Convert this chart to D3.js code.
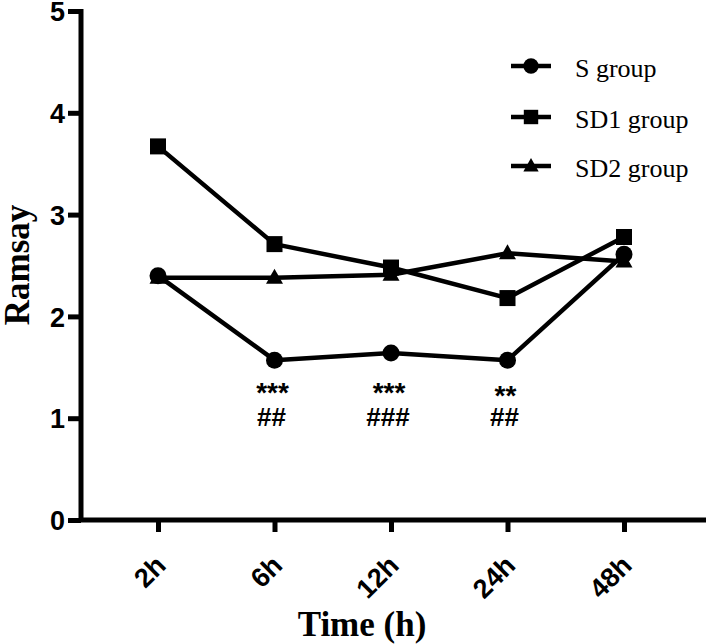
<!DOCTYPE html>
<html>
<head>
<meta charset="utf-8">
<script src="https://cdn.jsdelivr.net/npm/d3@7"></script>
<style>
  html, body { margin: 0; padding: 0; background: #fff; }
  svg { display: block; }
</style>
</head>
<body>
<svg id="chart" width="707" height="644"></svg>
<script>
// ---- data ----
const categories = ["2h", "6h", "12h", "24h", "48h"];
const seriesNames = ["S group", "SD1 group", "SD2 group"];
const seriesSymbols = ["circle", "square", "triangle"];
const sGroup   = [2.40, 1.57, 1.64, 1.57, 2.61];
const sd1Group = [3.67, 2.71, 2.48, 2.18, 2.78];
const sd2Group = [2.38, 2.38, 2.41, 2.62, 2.54];
const yTicks = [0, 1, 2, 3, 4, 5];
const starLabels = ["", "***", "***", "**", ""];
const hashLabels = ["", "##", "###", "##", ""];
const xTitle = "Time (h)";
const yTitle = "Ramsay";

// ---- layout ----
const svg = d3.select("#chart");
const axisX = 81, axisY = 520, axisRight = 706;
const x = d3.scalePoint().domain(categories).range([158, 624]);
const y = d3.scaleLinear().domain([0, 5]).range([axisY, 11]);

const series = [
  { name: seriesNames[0], symbol: seriesSymbols[0], values: sGroup },
  { name: seriesNames[1], symbol: seriesSymbols[1], values: sd1Group },
  { name: seriesNames[2], symbol: seriesSymbols[2], values: sd2Group }
];

function drawSymbol(g, kind, cx, cy, scale) {
  const s = scale || 1;
  if (kind === "circle") {
    g.append("circle").attr("cx", cx).attr("cy", cy).attr("r", 8.5 * s).attr("fill", "#000");
  } else if (kind === "square") {
    const h = 8 * s;
    g.append("rect").attr("x", cx - h).attr("y", cy - h).attr("width", 2 * h).attr("height", 2 * h).attr("fill", "#000");
  } else {
    const w = 8.5 * s, t = 9 * s, b = 6 * s;
    g.append("path").attr("d", `M${cx},${cy - t}L${cx + w},${cy + b}L${cx - w},${cy + b}Z`).attr("fill", "#000");
  }
}

// ---- y axis ----
const yAxis = svg.append("g").attr("transform", `translate(${axisX},0)`)
  .call(d3.axisLeft(y).tickValues(yTicks).tickFormat(d3.format("d")).tickSize(13).tickPadding(3));
yAxis.select(".domain").attr("d", `M0,${y(5) - 2}V${axisY}`).attr("stroke", "#000").attr("stroke-width", 5);
yAxis.selectAll(".tick line").attr("stroke", "#000").attr("stroke-width", 5);
yAxis.selectAll(".tick text").attr("font-family", "Liberation Sans, Arial, sans-serif")
  .attr("font-weight", "bold").attr("font-size", 27).attr("fill", "#000").attr("dy", "0.36em");

// ---- x axis ----
const xAxis = svg.append("g").attr("transform", `translate(0,${axisY})`)
  .call(d3.axisBottom(x).tickSize(12).tickPadding(0));
xAxis.select(".domain").attr("d", `M${axisX - 2},0H${axisRight}`).attr("stroke", "#000").attr("stroke-width", 5);
xAxis.selectAll(".tick line").attr("stroke", "#000").attr("stroke-width", 5);
xAxis.selectAll(".tick text")
  .attr("font-family", "Liberation Sans, Arial, sans-serif").attr("font-weight", "bold")
  .attr("font-size", 27).attr("fill", "#000")
  .attr("text-anchor", "end").attr("dy", 0).attr("y", 0)
  .attr("transform", "translate(9,47) rotate(-45)");

// ---- axis titles ----
svg.append("text").attr("x", 362).attr("y", 636).attr("text-anchor", "middle")
  .attr("font-family", "Liberation Serif, Times New Roman, serif").attr("font-weight", "bold")
  .attr("font-size", 35).attr("fill", "#000").text(xTitle);
svg.append("text").attr("transform", "translate(29,265) rotate(-90)").attr("text-anchor", "middle")
  .attr("font-family", "Liberation Serif, Times New Roman, serif").attr("font-weight", "bold")
  .attr("font-size", 35).attr("fill", "#000").text(yTitle);

// ---- lines & markers ----
const line = d3.line().x((d, i) => x(categories[i])).y(d => y(d));
const plot = svg.append("g");
series.forEach(s => {
  plot.append("path").datum(s.values).attr("d", line).attr("fill", "none")
    .attr("stroke", "#000").attr("stroke-width", 4.5).attr("stroke-linejoin", "round");
});
series.forEach(s => {
  const g = plot.append("g");
  s.values.forEach((v, i) => drawSymbol(g, s.symbol, x(categories[i]), y(v)));
});

// ---- significance annotations ----
const ann = svg.append("g").attr("font-family", "Liberation Sans, Arial, sans-serif")
  .attr("font-weight", "bold").attr("fill", "#000").attr("text-anchor", "middle");
categories.forEach((c, i) => {
  if (starLabels[i]) ann.append("text").attr("font-size", 28).attr("x", x(c) - 2)
    .attr("y", starLabels[i].length === 2 ? 405 : 402).text(starLabels[i]);
  if (hashLabels[i]) ann.append("text").attr("font-size", 26).attr("x", x(c) - 3)
    .attr("y", 426).text(hashLabels[i]);
});

// ---- legend ----
const legend = svg.append("g");
const legendRows = [66, 117, 166];
series.forEach((s, i) => {
  const ly = legendRows[i];
  legend.append("line").attr("x1", 511).attr("x2", 551).attr("y1", ly).attr("y2", ly)
    .attr("stroke", "#000").attr("stroke-width", 4.5);
  drawSymbol(legend, s.symbol, 531, ly, 0.9);
  legend.append("text").attr("x", 575).attr("y", ly + 11)
    .attr("font-family", "Liberation Serif, Times New Roman, serif").attr("font-size", 26)
    .attr("fill", "#000").text(s.name);
});
</script>
</body>
</html>
